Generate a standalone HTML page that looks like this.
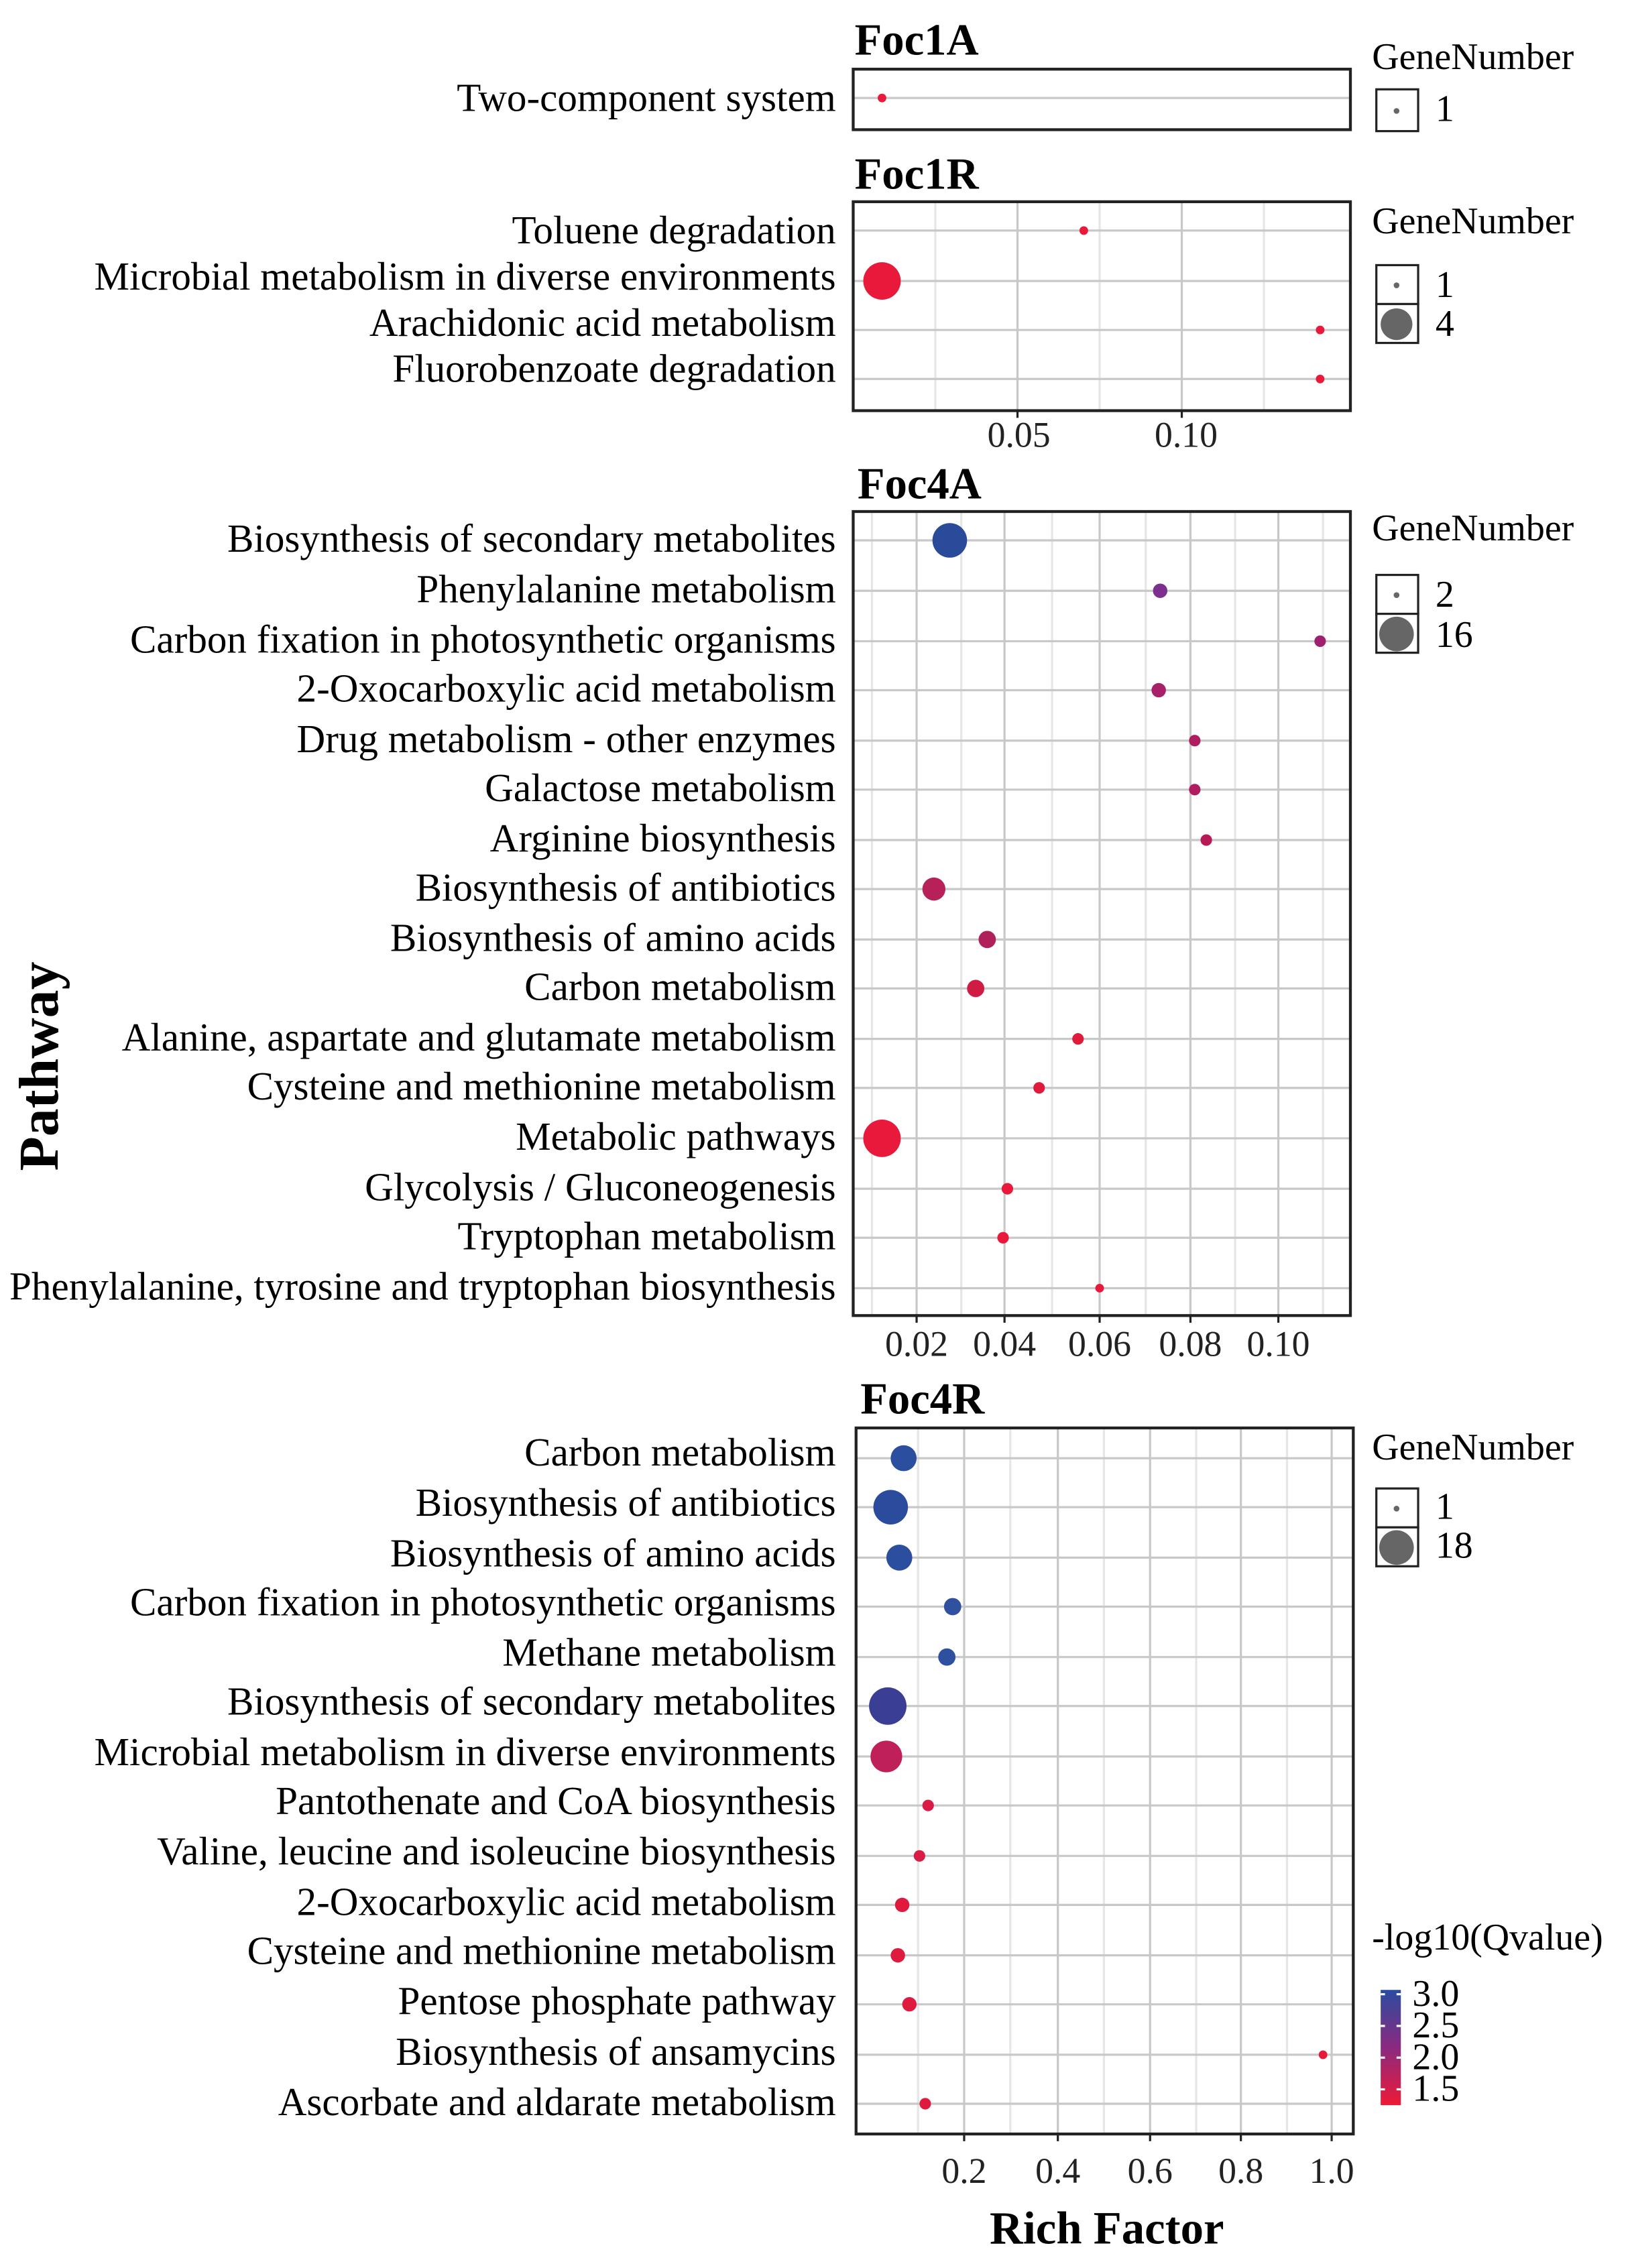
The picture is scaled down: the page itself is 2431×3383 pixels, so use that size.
<!DOCTYPE html>
<html><head><meta charset="utf-8"><style>
html,body{margin:0;padding:0;background:#fff}
svg{display:block}
text{font-family:"Liberation Serif",serif;fill:#000}
.l{font-size:27.5px;text-anchor:end}
.t{font-size:31px;font-weight:bold}
.k{font-size:25px;text-anchor:middle;fill:#222}
.g{font-size:26px}
</style></head><body>
<svg width="2431" height="3383" viewBox="0 0 1131 1574" preserveAspectRatio="none" xmlns="http://www.w3.org/2000/svg">
<defs>
<linearGradient id="cb" x1="0" y1="0" x2="0" y2="1">
<stop offset="0" stop-color="#2a4ca0"/><stop offset="0.5" stop-color="#8a2a80"/><stop offset="1" stop-color="#ee1a36"/>
</linearGradient>
</defs>
<g stroke="#c8c8c8" stroke-width="1.5">
<line x1="592" y1="68" x2="937" y2="68"/>
<line x1="706" y1="140" x2="706" y2="285"/><line x1="820" y1="140" x2="820" y2="285"/>
<line x1="649" y1="140" x2="649" y2="285" stroke="#e6e6e6"/><line x1="763" y1="140" x2="763" y2="285" stroke="#e6e6e6"/><line x1="877" y1="140" x2="877" y2="285" stroke="#e6e6e6"/>
<line x1="592" y1="160" x2="937" y2="160"/><line x1="592" y1="195" x2="937" y2="195"/><line x1="592" y1="229" x2="937" y2="229"/><line x1="592" y1="263" x2="937" y2="263"/>
<line x1="605" y1="355" x2="605" y2="913" stroke="#e6e6e6"/><line x1="636" y1="355" x2="636" y2="913"/><line x1="667" y1="355" x2="667" y2="913" stroke="#e6e6e6"/><line x1="697" y1="355" x2="697" y2="913"/><line x1="730" y1="355" x2="730" y2="913" stroke="#e6e6e6"/><line x1="763" y1="355" x2="763" y2="913"/><line x1="795" y1="355" x2="795" y2="913" stroke="#e6e6e6"/><line x1="826" y1="355" x2="826" y2="913"/><line x1="857" y1="355" x2="857" y2="913" stroke="#e6e6e6"/><line x1="887" y1="355" x2="887" y2="913"/><line x1="918" y1="355" x2="918" y2="913" stroke="#e6e6e6"/>
<line x1="592" y1="375" x2="937" y2="375"/><line x1="592" y1="410" x2="937" y2="410"/><line x1="592" y1="445" x2="937" y2="445"/><line x1="592" y1="479" x2="937" y2="479"/><line x1="592" y1="514" x2="937" y2="514"/><line x1="592" y1="548" x2="937" y2="548"/><line x1="592" y1="583" x2="937" y2="583"/><line x1="592" y1="617" x2="937" y2="617"/><line x1="592" y1="652" x2="937" y2="652"/><line x1="592" y1="686" x2="937" y2="686"/><line x1="592" y1="721" x2="937" y2="721"/><line x1="592" y1="755" x2="937" y2="755"/><line x1="592" y1="790" x2="937" y2="790"/><line x1="592" y1="825" x2="937" y2="825"/><line x1="592" y1="859" x2="937" y2="859"/><line x1="592" y1="894" x2="937" y2="894"/>
<line x1="637" y1="991" x2="637" y2="1481" stroke="#e6e6e6"/><line x1="669" y1="991" x2="669" y2="1481"/><line x1="701" y1="991" x2="701" y2="1481" stroke="#e6e6e6"/><line x1="734" y1="991" x2="734" y2="1481"/><line x1="766" y1="991" x2="766" y2="1481" stroke="#e6e6e6"/><line x1="798" y1="991" x2="798" y2="1481"/><line x1="830" y1="991" x2="830" y2="1481" stroke="#e6e6e6"/><line x1="861" y1="991" x2="861" y2="1481"/><line x1="893" y1="991" x2="893" y2="1481" stroke="#e6e6e6"/><line x1="924" y1="991" x2="924" y2="1481"/>
<line x1="594" y1="1012" x2="939" y2="1012"/><line x1="594" y1="1046" x2="939" y2="1046"/><line x1="594" y1="1081" x2="939" y2="1081"/><line x1="594" y1="1115" x2="939" y2="1115"/><line x1="594" y1="1150" x2="939" y2="1150"/><line x1="594" y1="1184" x2="939" y2="1184"/><line x1="594" y1="1219" x2="939" y2="1219"/><line x1="594" y1="1253" x2="939" y2="1253"/><line x1="594" y1="1288" x2="939" y2="1288"/><line x1="594" y1="1322" x2="939" y2="1322"/><line x1="594" y1="1357" x2="939" y2="1357"/><line x1="594" y1="1391" x2="939" y2="1391"/><line x1="594" y1="1426" x2="939" y2="1426"/><line x1="594" y1="1460" x2="939" y2="1460"/>
</g>
<g fill="none" stroke="#222" stroke-width="2">
<rect x="592" y="48" width="345" height="42"/>
<rect x="592" y="140" width="345" height="145"/>
<rect x="592" y="355" width="345" height="558"/>
<rect x="594" y="991" width="345" height="490"/>
</g>
<text class="t" x="593" y="38">Foc1A</text>
<text class="t" x="593" y="131">Foc1R</text>
<text class="t" x="595" y="346">Foc4A</text>
<text class="t" x="597" y="981">Foc4R</text>
<text class="l" x="580" y="77">Two-component system</text>
<text class="l" x="580" y="169">Toluene degradation</text>
<text class="l" x="580" y="201">Microbial metabolism in diverse environments</text>
<text class="l" x="580" y="233">Arachidonic acid metabolism</text>
<text class="l" x="580" y="265">Fluorobenzoate degradation</text>
<text class="l" x="580" y="383">Biosynthesis of secondary metabolites</text>
<text class="l" x="580" y="418">Phenylalanine metabolism</text>
<text class="l" x="580" y="453">Carbon fixation in photosynthetic organisms</text>
<text class="l" x="580" y="487">2-Oxocarboxylic acid metabolism</text>
<text class="l" x="580" y="522">Drug metabolism - other enzymes</text>
<text class="l" x="580" y="556">Galactose metabolism</text>
<text class="l" x="580" y="591">Arginine biosynthesis</text>
<text class="l" x="580" y="625">Biosynthesis of antibiotics</text>
<text class="l" x="580" y="660">Biosynthesis of amino acids</text>
<text class="l" x="580" y="694">Carbon metabolism</text>
<text class="l" x="580" y="729">Alanine, aspartate and glutamate metabolism</text>
<text class="l" x="580" y="763">Cysteine and methionine metabolism</text>
<text class="l" x="580" y="798">Metabolic pathways</text>
<text class="l" x="580" y="833">Glycolysis / Gluconeogenesis</text>
<text class="l" x="580" y="867">Tryptophan metabolism</text>
<text class="l" x="580" y="902">Phenylalanine, tyrosine and tryptophan biosynthesis</text>
<text class="l" x="580" y="1017">Carbon metabolism</text>
<text class="l" x="580" y="1052">Biosynthesis of antibiotics</text>
<text class="l" x="580" y="1087">Biosynthesis of amino acids</text>
<text class="l" x="580" y="1121">Carbon fixation in photosynthetic organisms</text>
<text class="l" x="580" y="1156">Methane metabolism</text>
<text class="l" x="580" y="1190">Biosynthesis of secondary metabolites</text>
<text class="l" x="580" y="1225">Microbial metabolism in diverse environments</text>
<text class="l" x="580" y="1259">Pantothenate and CoA biosynthesis</text>
<text class="l" x="580" y="1294">Valine, leucine and isoleucine biosynthesis</text>
<text class="l" x="580" y="1329">2-Oxocarboxylic acid metabolism</text>
<text class="l" x="580" y="1363">Cysteine and methionine metabolism</text>
<text class="l" x="580" y="1398">Pentose phosphate pathway</text>
<text class="l" x="580" y="1433">Biosynthesis of ansamycins</text>
<text class="l" x="580" y="1468">Ascorbate and aldarate metabolism</text>
<g stroke="#222" stroke-width="1.5">
<line x1="706" y1="285" x2="706" y2="290"/><line x1="820" y1="285" x2="820" y2="290"/>
<line x1="636" y1="913" x2="636" y2="918"/><line x1="697" y1="913" x2="697" y2="918"/><line x1="763" y1="913" x2="763" y2="918"/><line x1="826" y1="913" x2="826" y2="918"/><line x1="887" y1="913" x2="887" y2="918"/>
<line x1="669" y1="1481" x2="669" y2="1486"/><line x1="734" y1="1481" x2="734" y2="1486"/><line x1="798" y1="1481" x2="798" y2="1486"/><line x1="861" y1="1481" x2="861" y2="1486"/><line x1="924" y1="1481" x2="924" y2="1486"/>
</g>
<text class="k" x="707" y="310">0.05</text><text class="k" x="823" y="310">0.10</text>
<text class="k" x="636" y="941">0.02</text><text class="k" x="697" y="941">0.04</text><text class="k" x="763" y="941">0.06</text><text class="k" x="826" y="941">0.08</text><text class="k" x="887" y="941">0.10</text>
<text class="k" x="669" y="1515">0.2</text><text class="k" x="734" y="1515">0.4</text><text class="k" x="798" y="1515">0.6</text><text class="k" x="861" y="1515">0.8</text><text class="k" x="924" y="1515">1.0</text>
<circle cx="612" cy="68" r="3" fill="#e8193a"/>
<circle cx="752" cy="160" r="3" fill="#e8193a"/>
<circle cx="612" cy="195" r="13" fill="#e8193a"/>
<circle cx="916" cy="229" r="3" fill="#e8193a"/>
<circle cx="916" cy="263" r="3" fill="#e8193a"/>
<circle cx="659" cy="375" r="12" fill="#2a4a9a"/>
<circle cx="805" cy="410" r="5" fill="#7b2f8f"/>
<circle cx="916" cy="445" r="4" fill="#a02070"/>
<circle cx="804" cy="479" r="5" fill="#a82068"/>
<circle cx="829" cy="514" r="4" fill="#b01c60"/>
<circle cx="829" cy="548" r="4" fill="#b01c60"/>
<circle cx="837" cy="583" r="4" fill="#b81a58"/>
<circle cx="648" cy="617" r="8" fill="#b8205a"/>
<circle cx="685" cy="652" r="6" fill="#b0205a"/>
<circle cx="677" cy="686" r="6" fill="#d01c44"/>
<circle cx="748" cy="721" r="4" fill="#e01a3a"/>
<circle cx="721" cy="755" r="4" fill="#e01a3a"/>
<circle cx="612" cy="790" r="13" fill="#e8193a"/>
<circle cx="699" cy="825" r="4" fill="#e8193a"/>
<circle cx="696" cy="859" r="4" fill="#e8193a"/>
<circle cx="763" cy="894" r="3" fill="#e8193a"/>
<circle cx="627" cy="1012" r="9" fill="#2b4f9e"/>
<circle cx="618" cy="1046" r="12" fill="#2b4b9c"/>
<circle cx="624" cy="1081" r="9" fill="#2b4f9e"/>
<circle cx="661" cy="1115" r="6" fill="#3050a0"/>
<circle cx="657" cy="1150" r="6" fill="#2f4f9f"/>
<circle cx="616" cy="1184" r="13" fill="#3a3f95"/>
<circle cx="615" cy="1219" r="11" fill="#c0205a"/>
<circle cx="644" cy="1253" r="4" fill="#d81c45"/>
<circle cx="638" cy="1288" r="4" fill="#d81c45"/>
<circle cx="626" cy="1322" r="5" fill="#e01a3f"/>
<circle cx="623" cy="1357" r="5" fill="#e01a3f"/>
<circle cx="631" cy="1391" r="5" fill="#e01a3f"/>
<circle cx="918" cy="1426" r="3" fill="#e8193a"/>
<circle cx="642" cy="1460" r="4" fill="#e01a3f"/>
<text class="g" x="952" y="48">GeneNumber</text>
<text class="g" x="952" y="162">GeneNumber</text>
<text class="g" x="952" y="375">GeneNumber</text>
<text class="g" x="952" y="1013">GeneNumber</text>
<text class="g" x="996" y="84">1</text>
<text class="g" x="996" y="206">1</text><text class="g" x="996" y="233">4</text>
<text class="g" x="996" y="421">2</text><text class="g" x="996" y="449">16</text>
<text class="g" x="996" y="1054">1</text><text class="g" x="996" y="1081">18</text>
<text class="g" x="952" y="1353">-log10(Qvalue)</text>
<g fill="#fff" stroke="#222" stroke-width="1.5">
<rect x="955" y="62" width="29" height="29"/>
<rect x="955" y="184" width="29" height="27"/><rect x="955" y="211" width="29" height="27"/>
<rect x="955" y="399" width="29" height="27"/><rect x="955" y="426" width="29" height="27"/>
<rect x="955" y="1033" width="29" height="27"/><rect x="955" y="1060" width="29" height="27"/>
</g>
<g fill="#666">
<circle cx="969" cy="77" r="2"/>
<circle cx="969" cy="198" r="2"/><circle cx="969" cy="225" r="11"/>
<circle cx="969" cy="413" r="2"/><circle cx="969" cy="440" r="12"/>
<circle cx="969" cy="1047" r="2"/><circle cx="969" cy="1074" r="12"/>
</g>
<rect x="958" y="1381" width="14" height="80" fill="url(#cb)"/>
<g stroke="#fff" stroke-width="1.5">
<line x1="958" y1="1384" x2="961" y2="1384"/><line x1="969" y1="1384" x2="972" y2="1384"/>
<line x1="958" y1="1406" x2="961" y2="1406"/><line x1="969" y1="1406" x2="972" y2="1406"/>
<line x1="958" y1="1428" x2="961" y2="1428"/><line x1="969" y1="1428" x2="972" y2="1428"/>
<line x1="958" y1="1450" x2="961" y2="1450"/><line x1="969" y1="1450" x2="972" y2="1450"/>
</g>
<text class="g" x="980" y="1392">3.0</text>
<text class="g" x="980" y="1414">2.5</text>
<text class="g" x="980" y="1436">2.0</text>
<text class="g" x="980" y="1458">1.5</text>
<text x="768" y="1557" style="font-size:32px;font-weight:bold;text-anchor:middle">Rich Factor</text>
<text transform="translate(40,740) rotate(-90)" style="font-size:39px;font-weight:bold;text-anchor:middle">Pathway</text>
</svg>
</body></html>
